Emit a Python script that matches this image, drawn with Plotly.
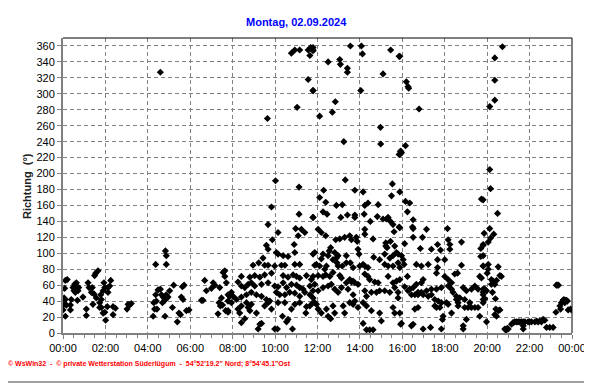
import plotly.graph_objects as go

# Time of day (hours) and wind direction (degrees)
hours_night = [0.20,0.11,0.08,0.05,0.11,0.05,0.16,0.00,0.11,0.35,0.35,0.39,
    0.47,0.55,0.63,0.52,0.71,0.63,0.74,0.58,0.68,0.94,1.18,1.23,1.34,1.38,1.46,1.57,
    1.49,1.54,1.65,1.10,1.10,1.41,1.73,1.81,1.78,1.89,1.93,1.97,2.12,2.20,2.25,2.12,
    1.81,1.73,1.89,1.97,2.01,2.09,2.36,2.47,2.36,3.07,3.14,3.22,3.02]
dir_night = [67,66,56,44,42,36,35,29,21,35,29,42,
    57,61,55,53,53,63,57,51,41,45,63,57,51,57,49,44,
    72,75,78,30,22,36,38,42,48,53,63,57,57,59,66,51,
    32,32,25,26,16,33,33,31,23,36,35,37,30]

hours_morning = [4.59,4.83,4.87,4.37,4.87,4.25,4.32,4.28,4.40,4.37,4.48,4.59,4.64,4.72,
    4.80,4.87,4.95,5.03,5.22,5.16,4.81,5.39,5.47,5.54,5.58,5.66,5.63,5.71,5.82,5.94,
    4.43,4.69,6.53,6.60,6.68,6.76,7.08,7.16,7.00,7.39,7.47,7.36,7.52,7.63,7.55,7.70,
    7.63,7.86,7.78,7.31,7.86,7.67,7.42]
dir_morning = [327,103,97,86,86,21,30,38,40,48,54,55,48,45,
    41,48,45,53,60,32,21,14,25,23,45,42,58,60,28,29,
    30,38,41,41,66,53,63,60,56,57,44,38,35,71,76,63,
    78,46,26,24,48,28,34]

hours_late_morning = [10.77,10.93,11.16,11.56,11.68,11.79,11.64,11.56,11.79,11.04,9.64,
    10.02,11.13,9.83,11.13,11.79,9.67,10.14,10.97,11.24,11.40,11.09,9.87,9.59,10.90,
    10.06,10.14,10.38,10.61,10.93,9.67,11.87,
    8.96,9.23,9.51,9.67,9.98,10.30,10.46,10.93,11.16,11.87,9.43,
    8.41,8.25,8.81,9.04,9.28,9.51,9.83,10.38,10.61,10.85,11.01,11.16,11.48,11.71,
    7.94,8.41,8.57,8.73,8.88,9.04,9.36,9.67,9.98,10.14,10.38,10.54,10.77,11.01,11.16,
    11.32,11.64,11.87,
    7.78,8.02,8.18,8.41,8.65,8.88,9.12,9.36,9.59,9.75,10.06,10.22,10.46,10.69,10.93,
    11.16,11.40,11.64,11.79,
    7.78,7.94,8.25,8.41,8.65,8.73,8.88,9.12,9.51,9.67,9.83,10.14,10.46,10.77,10.93,
    11.16,11.48,11.64,11.87,7.78,8.33,8.81,11.45,
    9.20,9.28,9.36,9.98,10.11,10.82,10.54,10.61,8.41,8.57,10.35]
dir_late_morning = [351,355,355,355,358,355,348,318,304,283,269,
    191,183,158,149,145,136,126,131,130,126,122,117,110,111,
    101,99,97,96,101,105,101,
    85,88,85,85,84,85,85,86,86,85,94,
    71,64,70,72,70,73,75,72,70,73,71,69,72,67,
    51,59,57,61,63,59,61,63,59,58,63,57,61,60,57,
    55,59,61,
    48,46,42,45,48,51,48,46,42,40,51,48,48,51,50,
    46,51,48,44,
    40,38,30,34,38,32,36,25,34,38,30,38,38,30,36,
    38,33,34,38,28,25,28,25,
    5,11,12,5,5,5,14,17,13,18,21]

hours_afternoon = [11.79,11.79,12.50,13.05,13.08,13.41,13.41,13.55,14.07,14.12,15.45,15.85,
    15.09,11.79,14.04,12.84,12.10,12.70,14.97,13.24,14.98,15.91,15.85,13.31,15.53,
    12.29,13.76,14.15,12.10,15.49,12.39,12.89,13.17,14.23,14.38,14.86,12.26,12.45,
    13.10,13.41,13.76,13.76,14.20,14.49,14.82,15.09,15.25,15.33,15.44,15.56,15.88,
    11.79,12.03,12.18,12.39,15.61,
    12.86,13.05,13.28,13.52,13.60,13.83,13.87,14.23,14.23,14.62,
    15.22,15.22,15.28,15.44,15.64,12.62,12.55,12.26,12.18,12.50,
    12.81,12.89,12.92,12.97,12.73,12.97,13.36,13.91,13.96,14.15,14.23,14.38,14.65,
    14.93,15.17,15.41,15.56,15.72,11.79,11.95,12.10,12.34,12.42,13.17,13.36,
    13.55,13.68,13.99,15.17,15.33,15.56,15.80,15.88,
    11.79,12.03,12.26,12.39,12.58,12.73,13.05,13.13,13.36,13.52,13.60,13.68,13.76,
    13.91,14.23,14.38,14.46,14.70,14.86,15.33,15.56,15.72,15.88,
    11.79,12.03,12.26,12.50,12.65,12.81,12.97,13.13,13.44,13.68,13.76,
    14.23,14.31,14.54,14.78,14.93,15.17,15.41,15.64,15.80,
    11.79,11.95,12.03,12.18,12.42,12.50,12.73,12.81,13.21,13.28,13.52,13.68,13.91,
    14.15,14.31,14.54,14.93,15.01,15.56,15.64,15.88,
    14.15,14.31,14.46,14.62,15.92,12.62]
dir_afternoon = [358,354,340,343,337,332,327,360,360,350,355,347,
    325,304,304,290,272,277,258,240,237,228,224,192,187,
    179,179,177,170,172,164,160,161,160,163,161,152,149,
    145,148,148,145,149,140,146,143,143,145,140,136,132,
    145,130,126,122,127,
    117,118,120,122,117,120,115,130,124,118,
    113,109,107,115,109,107,103,99,93,97,
    101,94,88,97,92,84,97,105,99,86,84,82,95,
    92,99,94,97,101,99,86,84,80,84,84,88,
    88,82,84,86,84,84,88,82,
    71,72,71,73,71,76,72,69,63,67,64,65,63,
    61,74,71,67,64,63,71,63,65,67,
    53,53,57,59,61,55,51,57,55,48,40,
    53,46,51,51,53,53,51,57,51,
    38,36,30,25,30,21,34,25,34,25,38,36,32,
    38,34,28,25,15,32,25,25,
    12,4,4,4,11,18]

hours_evening = [15.88,16.19,16.27,16.30,16.79,16.15,15.93,15.88,15.96,15.88,16.15,16.35,
    16.24,16.51,15.85,16.48,16.51,17.14,18.13,19.73,19.86,16.51,16.95,16.11,16.85,
    17.37,17.66,17.80,18.16,18.24,18.24,18.79,19.81,19.70,15.80,15.96,16.04,16.08,
    19.70,19.81,18.00,17.66,16.66,16.90,17.22,17.66,18.79,17.61,16.24,16.98,16.90,
    18.00,18.16,18.32,18.47,18.60,19.65,19.73,
    16.11,16.35,16.51,16.66,16.74,16.90,17.14,17.37,17.61,17.84,18.16,18.32,18.39,
    18.55,18.71,18.87,19.02,19.26,19.42,19.57,19.81,19.89,
    15.80,16.27,16.43,16.59,16.74,16.98,17.22,17.37,17.53,17.69,17.84,18.08,
    18.55,18.63,18.94,19.18,
    16.59,16.74,17.53,17.61,17.77,18.16,18.32,18.63,18.94,19.10,19.26,19.42,19.57,19.81,
    15.96,16.43,16.51,16.98,17.33,17.84,17.89,17.92,18.87,18.87,19.02,19.65]
dir_evening = [347,315,309,307,281,235,228,224,226,177,165,163,
    152,142,133,133,131,130,131,168,125,120,120,112,106,
    105,111,104,117,111,105,114,111,106,99,97,92,86,
    96,84,92,92,86,84,86,82,85,75,71,67,63,
    71,67,63,74,75,71,69,
    58,55,57,61,51,51,53,55,55,57,59,55,51,
    46,44,57,53,55,59,55,51,55,
    44,53,48,48,48,48,46,48,42,40,38,38,
    42,38,42,38,
    30,32,34,32,32,36,25,34,32,32,32,32,32,38,
    12,9,11,5,7,5,17,21,9,5,17,21]

hours_night2 = [20.72,20.36,20.36,20.36,20.12,20.12,20.16,19.81,20.49,20.12,20.31,20.16,
    20.05,19.81,19.81,19.81,20.05,20.05,20.00,20.52,20.60,20.67,20.20,20.28,20.44,
    20.36,20.20,19.81,19.97,19.81,20.25,19.81,19.89,20.39,20.41,20.52,20.60,20.44,
    20.36,19.97,
    20.83,20.87,20.91,20.95,20.99,21.15,21.22,21.30,21.38,21.46,21.54,21.62,21.70,
    21.78,21.93,22.00,22.09,22.25,22.33,22.40,22.48,22.56,22.64,22.72,21.70,21.70,
    22.80,22.95,23.11,23.26,23.30,23.36,23.24,23.43,23.46,23.50,23.58,23.62,23.66,
    23.70,23.74,23.78,23.82,23.93,24.00]
dir_night2 = [359,345,317,292,284,205,181,167,150,131,124,119,
    114,110,97,84,86,80,75,83,72,71,67,65,66,
    61,61,55,53,48,51,42,43,43,30,28,29,21,
    23,14,
    5,4,4,6,5,11,13,14,14,14,14,14,14,
    14,14,14,14,14,15,14,15,14,17,16,9,5,
    7,7,7,60,60,60,26,34,30,38,41,42,38,
    41,41,40,29,30,29]

tick_hours = list(range(0, 25, 2))
tick_labels = ["00:00", "02:00", "04:00", "06:00", "08:00", "10:00", "12:00",
               "14:00", "16:00", "18:00", "20:00", "22:00", "00:00"]
dir_ticks = list(range(0, 361, 20))

hours = hours_night + hours_morning + hours_late_morning + hours_afternoon + hours_evening + hours_night2
direction = dir_night + dir_morning + dir_late_morning + dir_afternoon + dir_evening + dir_night2

fig = go.Figure()
fig.add_trace(go.Scatter(
    x=hours, y=direction, mode="markers",
    marker=dict(symbol="diamond", size=5.5, color="black", line=dict(width=0)),
    hoverinfo="x+y", showlegend=False))

W, H = 592, 384
OFF = 8  # page body margin
# plot area in page pixels
PL, PR, PT, PB = 63, 572, 38, 333
L, R, T, B = PL - OFF, PR - OFF, PT - OFF, PB - OFF

def px(x):
    return (x - OFF - L) / (R - L)

def py(y):
    return (B - (y - OFF)) / (B - T)

grid = "#808080"
fig.update_layout(
    width=W, height=H,
    margin=dict(l=L, r=W - R, t=T, b=H - B, pad=0, autoexpand=False),
    paper_bgcolor="white", plot_bgcolor="white",
    font=dict(family="Liberation Sans, Arial, sans-serif", size=10, color="black"),
    xaxis=dict(range=[0, 24], tickmode="array", tickvals=tick_hours, ticktext=tick_labels,
               showgrid=True, gridcolor=grid, griddash="4px,3px", gridwidth=1,
               showline=True, linecolor="#808080", linewidth=2,
               ticks="outside", ticklen=4, tickcolor="#808080", tickwidth=1,
               minor=dict(dtick=0.5, tick0=0, ticks="outside", ticklen=3,
                          tickcolor="#808080", showgrid=False),
               zeroline=False, tickfont=dict(size=11), fixedrange=True, automargin=False),
    yaxis=dict(range=[0, 370], tickmode="array", tickvals=dir_ticks,
               showgrid=True, gridcolor=grid, griddash="4px,3px", gridwidth=1,
               showline=True, linecolor="#808080", linewidth=2,
               ticks="outside", ticklen=4, tickcolor="#808080", tickwidth=1,
               zeroline=False, tickfont=dict(size=11), fixedrange=True, automargin=False),
    shapes=[
        dict(type="line", xref="paper", yref="paper", x0=0, x1=1, y0=1, y1=1,
             line=dict(color="black", width=1)),
        dict(type="line", xref="paper", yref="paper", x0=1, x1=1, y0=0, y1=1,
             line=dict(color="black", width=1)),
        dict(type="line", xref="paper", yref="paper", x0=px(590), x1=px(590),
             y0=py(0), y1=py(382), line=dict(color="#A0A0A0", width=2)),
        dict(type="line", xref="paper", yref="paper", x0=px(0), x1=px(591),
             y0=py(382), y1=py(382), line=dict(color="#A0A0A0", width=2)),
    ],
    annotations=[
        dict(text="<b>Montag, 02.09.2024</b>", xref="paper", yref="paper",
             x=px(296), y=py(22), xanchor="center", yanchor="middle", showarrow=False,
             font=dict(color="#0000FF", size=11)),
        dict(text="<b>Richtung  (°)</b>", xref="paper", yref="paper",
             x=px(27), y=py(186), xanchor="center", yanchor="middle", textangle=-90,
             showarrow=False, font=dict(color="#202020", size=11)),
        dict(text="<b>© WsWin32  -  © private Wetterstation Süderlügum  -  54°52'19.2\" Nord; 8°54'45.1\"Ost</b>",
             xref="paper", yref="paper", x=px(6), y=py(364), xanchor="left", yanchor="middle",
             showarrow=False, font=dict(color="#FF0000", size=7)),
    ],
)

fig.write_html("out.html")
